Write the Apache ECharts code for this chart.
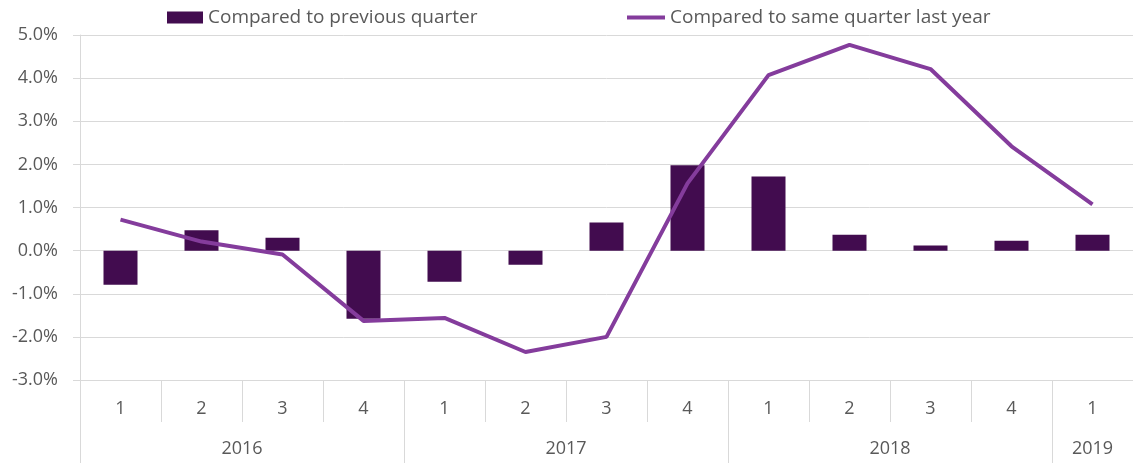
<!DOCTYPE html>
<html>
<head>
<meta charset="utf-8">
<script src="https://cdn.jsdelivr.net/npm/echarts@6/dist/echarts.min.js"></script>
<style>
html,body{margin:0;padding:0;background:#fff;}
#main{width:1133px;height:463px;}
</style>
</head>
<body>
<div id="main"></div>
<script>
// 季度标签
var quarters = ['1', '2', '3', '4', '1', '2', '3', '4', '1', '2', '3', '4', '1'];
// 年份及每年的季度数
var years = ['2016', '2017', '2018', '2019'];
var quartersPerYear = [4, 4, 4, 1];
// 环比（柱）
var prevQuarter = [-0.79, 0.47, 0.30, -1.58, -0.72, -0.33, 0.65, 1.98, 1.72, 0.37, 0.12, 0.23, 0.37];
// 同比（线）
var sameQuarter = [0.72, 0.21, -0.09, -1.63, -1.56, -2.35, -2.0, 1.56, 4.07, 4.77, 4.21, 2.42, 1.07];
// y轴刻度
var yTicks = [-3, -2, -1, 0, 1, 2, 3, 4, 5];

var barName = 'Compared to previous quarter';
var lineName = 'Compared to same quarter last year';
var textColor = '#595959';
var gridColor = '#d9d9d9';
var font = 'Open Sans';

// 年份轴：按半个季度切分，标签放中点，刻度放年份分界
var yearSlots = [], yearTickIdx = {}, pos = 0;
yearTickIdx[0] = true;
for (var i = 0; i < years.length; i++) {
    var n = quartersPerYear[i] * 2;
    for (var k = 0; k < n; k++) yearSlots.push('');
    pos += n;
    yearTickIdx[pos] = true;
}
yearSlots.push('');
pos = 0;
for (var i = 0; i < years.length; i++) {
    yearSlots[pos + quartersPerYear[i]] = years[i];
    pos += quartersPerYear[i] * 2;
}

var myChart = echarts.init(document.getElementById('main'));
var legendText = {color: textColor, fontSize: 19, fontFamily: font};
var option = {
    animation: false,
    textStyle: {fontFamily: font},
    legend: [
        {
            top: 3,
            left: 162,
            itemWidth: 36,
            itemHeight: 12,
            textStyle: legendText,
            data: [{name: barName, icon: 'rect'}]
        },
        {
            top: 3,
            left: 622,
            itemWidth: 38,
            itemHeight: 4,
            textStyle: legendText,
            data: [{name: lineName, icon: 'rect'}]
        }
    ],
    grid: {left: 80, right: 0, top: 35, bottom: 83},
    xAxis: [
        {
            type: 'category',
            data: quarters,
            axisLine: {onZero: false, lineStyle: {color: gridColor, width: 1}},
            axisTick: {show: true, length: 42, interval: 0, lineStyle: {color: gridColor}},
            axisLabel: {color: textColor, fontSize: 18, margin: 20, fontFamily: font}
        },
        {
            type: 'category',
            position: 'bottom',
            boundaryGap: false,
            data: yearSlots,
            axisLine: {show: false, onZero: false},
            axisTick: {
                show: true, length: 83, lineStyle: {color: gridColor},
                interval: function (idx) { return !!yearTickIdx[idx]; }
            },
            axisLabel: {
                color: textColor, fontSize: 18, margin: 60, fontFamily: font,
                interval: function (idx, val) { return val !== ''; }
            }
        }
    ],
    yAxis: {
        type: 'value',
        min: yTicks[0],
        max: yTicks[yTicks.length - 1],
        interval: 1,
        axisLine: {show: true, lineStyle: {color: gridColor}},
        axisTick: {show: true, length: 7, lineStyle: {color: gridColor}},
        splitLine: {lineStyle: {color: gridColor}},
        axisLabel: {
            color: textColor, fontSize: 18, margin: 22, fontFamily: font,
            formatter: function (v) { return v.toFixed(1) + '%'; }
        }
    },
    series: [
        {
            name: barName,
            type: 'bar',
            barWidth: 34,
            itemStyle: {color: '#420c4f'},
            data: prevQuarter
        },
        {
            name: lineName,
            type: 'line',
            symbol: 'none',
            lineStyle: {color: '#843c9c', width: 4},
            itemStyle: {color: '#843c9c'},
            data: sameQuarter
        }
    ]
};
myChart.setOption(option);
</script>
</body>
</html>
